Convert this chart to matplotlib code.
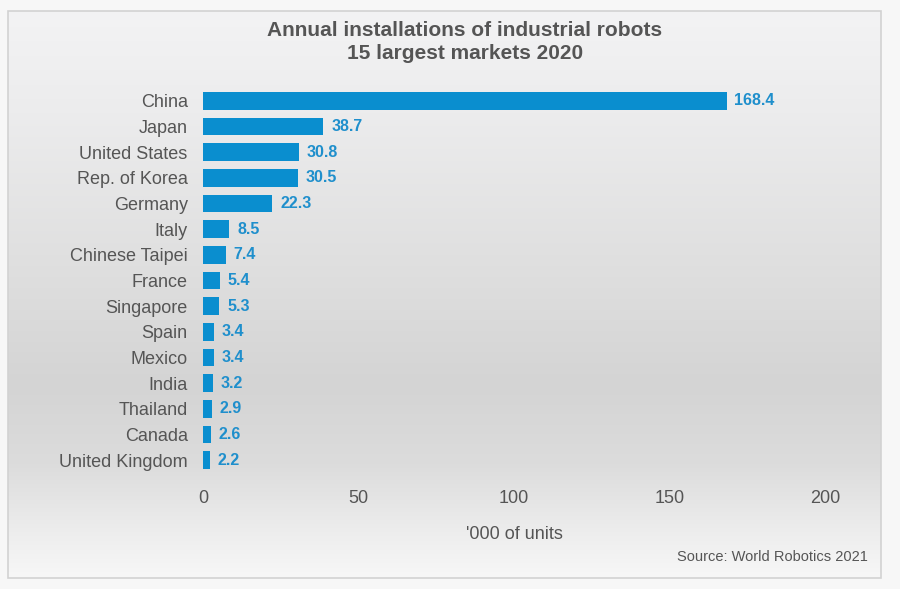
import numpy as np
import matplotlib.pyplot as plt
from matplotlib.colors import LinearSegmentedColormap
from matplotlib.patches import Rectangle

countries = ["China", "Japan", "United States", "Rep. of Korea", "Germany",
             "Italy", "Chinese Taipei", "France", "Singapore", "Spain",
             "Mexico", "India", "Thailand", "Canada", "United Kingdom"]
units = [168.4, 38.7, 30.8, 30.5, 22.3, 8.5, 7.4, 5.4, 5.3, 3.4,
         3.4, 3.2, 2.9, 2.6, 2.2]
xticks = [0, 50, 100, 150, 200]

BLUE = "#0a8ecf"
LABEL_BLUE = "#1f8fcc"
GREY_TXT = "#555555"

plt.rcParams["font.family"] = ["Liberation Sans", "DejaVu Sans"]

fig = plt.figure(figsize=(9, 5.89), dpi=100, facecolor="#f7f7f7")

# panel with vertical grey gradient
W, H = 900, 589
px, py, pw, ph = 8, 11, 873, 567
bg = fig.add_axes([px / W, 1 - (py + ph) / H, pw / W, ph / H])
stops = [(0.0, "#f3f3f4"), (0.18, "#ececed"), (0.45, "#dfdfdf"),
         (0.66, "#d4d4d4"), (0.80, "#dcdcdc"), (0.92, "#ededed"),
         (1.0, "#f7f7f7")]
cmap = LinearSegmentedColormap.from_list("panel", stops)
bg.imshow(np.linspace(0, 1, 256).reshape(-1, 1), aspect="auto", cmap=cmap,
          extent=[0, 1, 0, 1], origin="upper")
bg.set_xlim(0, 1)
bg.set_ylim(0, 1)
bg.axis("off")
bg.add_patch(Rectangle((0, 0), 1, 1, fill=False, edgecolor="#d2d2d2",
                       lw=1.2, transform=bg.transAxes, clip_on=False))

# main chart
x0, x1 = 203, 825
ytop, ybot = 88, 473
ax = fig.add_axes([x0 / W, 1 - ybot / H, (x1 - x0) / W, (ybot - ytop) / H])
ax.patch.set_alpha(0)

pos = np.arange(len(countries))
ax.barh(pos, units, height=0.7, color=BLUE)
for p, v in zip(pos, units):
    ax.text(v + 2.5, p, f"{v:.1f}", va="center", ha="left", fontsize=11.5,
            fontweight="bold", color=LABEL_BLUE)

ax.set_xlim(0, 200)
ax.set_ylim(len(countries) - 0.5, -0.5)
ax.set_yticks(pos)
ax.set_yticklabels(countries, fontsize=13, color=GREY_TXT)
ax.set_xticks(xticks)
ax.set_xticklabels([str(t) for t in xticks], fontsize=13, color=GREY_TXT)
ax.tick_params(axis="both", length=0)
ax.tick_params(axis="y", pad=11)
ax.tick_params(axis="x", pad=12)
for s in ax.spines.values():
    s.set_visible(False)

ax.set_xlabel("'000 of units", fontsize=13, color=GREY_TXT, labelpad=14)

fig.text(465 / W, 1 - 42 / H, "Annual installations of industrial robots\n15 largest markets 2020",
         ha="center", va="center", fontsize=15, fontweight="bold",
         color=GREY_TXT, linespacing=1.25)
fig.text(868 / W, 1 - 557 / H, "Source: World Robotics 2021", ha="right",
         va="center", fontsize=10.5, color=GREY_TXT)

fig.savefig("out.png", dpi=100, facecolor=fig.get_facecolor())
